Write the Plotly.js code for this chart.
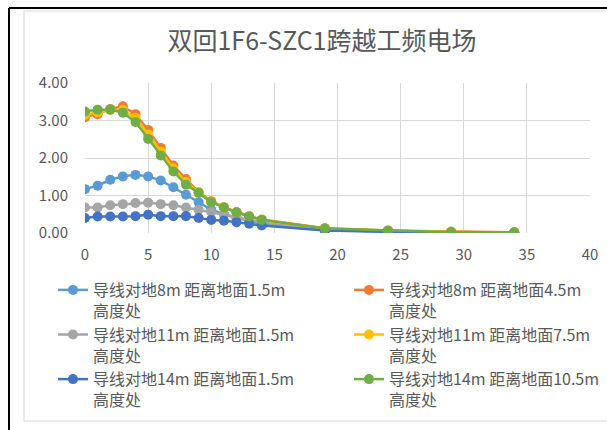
<!DOCTYPE html>
<html>
<head>
<meta charset="utf-8">
<script src="https://cdn.plot.ly/plotly-3.0.1.min.js"></script>
<style>
html,body{margin:0;padding:0;background:#fff;}
#chart{width:607px;height:430px;}
</style>
</head>
<body>
<div id="chart"></div>
<script>
// Distances (m)
const distances = [0,1,2,3,4,5,6,7,8,9,10,11,12,13,14,19,24,29,34];

const seriesNames = [
  "导线对地8m 距离地面1.5m<br>高度处",
  "导线对地8m 距离地面4.5m<br>高度处",
  "导线对地11m 距离地面1.5m<br>高度处",
  "导线对地11m 距离地面7.5m<br>高度处",
  "导线对地14m 距离地面1.5m<br>高度处",
  "导线对地14m 距离地面10.5m<br>高度处"
];

// Electric field (kV/m)
const h8_15  = [1.17,1.26,1.42,1.51,1.55,1.51,1.40,1.22,1.02,0.82,0.62,0.50,0.40,0.32,0.25,0.08,0.04,0.02,0.01];
const h8_45  = [3.09,3.17,3.31,3.38,3.17,2.75,2.27,1.80,1.44,1.09,0.85,0.69,0.56,0.45,0.36,0.13,0.07,0.04,0.02];
const h11_15 = [0.68,0.68,0.74,0.77,0.80,0.81,0.77,0.74,0.68,0.62,0.56,0.49,0.42,0.35,0.28,0.09,0.04,0.02,0.01];
const h11_75 = [3.15,3.22,3.28,3.28,3.07,2.63,2.17,1.72,1.36,1.08,0.83,0.68,0.55,0.44,0.35,0.12,0.06,0.03,0.02];
const h14_15 = [0.40,0.44,0.44,0.44,0.45,0.49,0.45,0.45,0.45,0.40,0.35,0.33,0.29,0.25,0.20,0.07,0.03,0.01,0.01];
const h14_105= [3.24,3.29,3.29,3.21,2.96,2.51,2.07,1.64,1.29,1.07,0.82,0.68,0.55,0.44,0.35,0.12,0.06,0.02,0.02];

const xTicks = [0,5,10,15,20,25,30,35,40];
const yTicks = [0,1,2,3,4];

const seriesData = [h8_15,h8_45,h11_15,h11_75,h14_15,h14_105];
const colors = ["#5B9BD5","#ED7D31","#A5A5A5","#FFC000","#4472C4","#70AD47"];

const traces = seriesData.map((d,i)=>({
  type:'scatter', mode:'lines+markers',
  x: distances, y: d, name: seriesNames[i],
  legend: (i%2===0) ? 'legend' : 'legend2',
  legendgroup: 'g'+i,
  line:{color:colors[i], width:2.5},
  marker:{color:colors[i], size:10, symbol:'circle'}
}));

// pixel -> paper helpers for frame shapes
const L=85, R=17, T=83, B=197, W=607, H=430;
const pw=W-L-R, ph=H-T-B;
const px=x=>(x-L)/pw, py=y=>(H-B-y)/ph;

const font = "'Noto Sans CJK SC', 'Noto Sans', sans-serif";
const legFont = {family:font, size:16, color:'#595959'};

const layout = {
  width:W, height:H,
  margin:{l:L, r:R, t:T, b:B, autoexpand:false},
  paper_bgcolor:'#ffffff', plot_bgcolor:'#ffffff',
  font:{family:font, color:'#595959', size:14},
  title:{text:'双回1F6-SZC1跨越工频电场', font:{family:font, size:25, color:'#595959'},
         x:px(322), xref:'paper', xanchor:'center', y:1-41/H, yref:'container', yanchor:'middle'},
  xaxis:{range:[0,40], tickvals:xTicks, showgrid:true, gridcolor:'#D9D9D9', gridwidth:1,
         zeroline:false, showline:false, ticks:'', tickfont:{size:15, color:'#595959'},
         ticklabelstandoff:11, fixedrange:true},
  yaxis:{range:[0,4], tickvals:yTicks, tickformat:'.2f', showgrid:true, gridcolor:'#D9D9D9', gridwidth:1,
         zeroline:false, showline:false, ticks:'', tickfont:{size:15, color:'#595959'},
         ticklabelstandoff:16, fixedrange:true},
  showlegend:true,
  legend:{orientation:'v', x:px(53), xanchor:'left', y:py(273), yanchor:'top',
          valign:'top', traceorder:'normal', tracegroupgap:0,
          font:legFont, itemwidth:30, bgcolor:'rgba(0,0,0,0)'},
  legend2:{orientation:'v', x:px(349), xanchor:'left', y:py(273), yanchor:'top',
          valign:'top', traceorder:'normal', tracegroupgap:0,
          font:legFont, itemwidth:30, bgcolor:'rgba(0,0,0,0)'},
  shapes:[
    {type:'line', xref:'paper', yref:'paper', x0:px(24), x1:px(607), y0:py(11), y1:py(11), line:{color:'#D9D9D9', width:1}},
    {type:'line', xref:'paper', yref:'paper', x0:px(24), x1:px(24), y0:py(11), y1:py(421), line:{color:'#D9D9D9', width:1}},
    {type:'line', xref:'paper', yref:'paper', x0:px(24), x1:px(607), y0:py(421), y1:py(421), line:{color:'#D9D9D9', width:1}},
    {type:'line', xref:'paper', yref:'paper', x0:px(9), x1:px(607), y0:py(8), y1:py(8), line:{color:'#000000', width:2}},
    {type:'line', xref:'paper', yref:'paper', x0:px(9), x1:px(9), y0:py(8), y1:py(430), line:{color:'#000000', width:2}}
  ]
};

Plotly.newPlot('chart', traces, layout, {staticPlot:true, displayModeBar:false});
</script>
</body>
</html>
